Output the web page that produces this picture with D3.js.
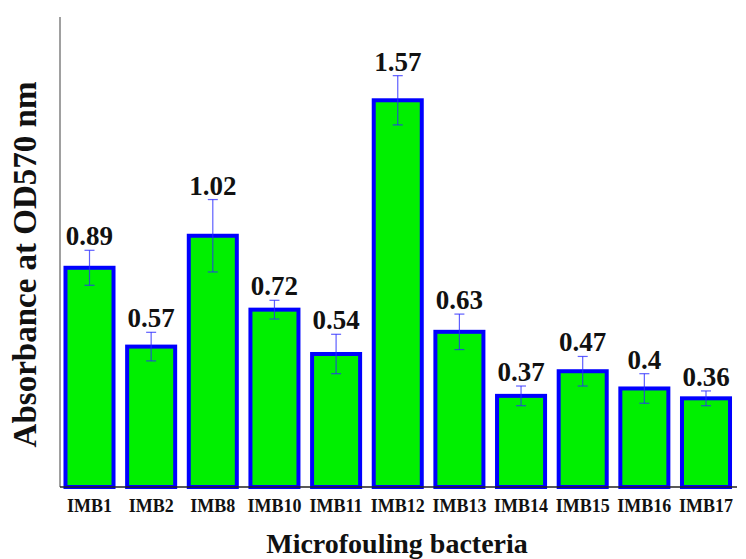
<!DOCTYPE html>
<html>
<head>
<meta charset="utf-8">
<script src="https://cdn.jsdelivr.net/npm/d3@7"></script>
<style>
  html, body { margin: 0; padding: 0; background: #fff; }
  svg { display: block; }
  text { font-family: "Liberation Serif", "Times New Roman", serif; font-weight: bold; fill: #111; }
</style>
</head>
<body>
<svg id="chart" width="746" height="559"></svg>
<script>
// Biofilm formation by microfouling isolates (mean ± SD)
const strains = ["IMB1", "IMB2", "IMB8", "IMB10", "IMB11", "IMB12", "IMB13", "IMB14", "IMB15", "IMB16", "IMB17"];
const absorbance = [0.89, 0.57, 1.02, 0.72, 0.54, 1.57, 0.63, 0.37, 0.47, 0.40, 0.36];
const errors = [0.071, 0.058, 0.147, 0.038, 0.080, 0.100, 0.072, 0.040, 0.060, 0.060, 0.030];
const yMax = 1.9;

const data = strains.map((s, i) => ({ strain: s, value: absorbance[i], err: errors[i] }));

const svg = d3.select("#chart");
const plotLeft = 60, plotRight = 735.5, plotTop = 19, plotBottom = 487;

const x = d3.scaleBand()
  .domain(strains)
  .range([plotLeft, plotRight])
  .paddingInner(0.221)
  .paddingOuter(0.089);

const y = d3.scaleLinear().domain([0, yMax]).range([plotBottom, plotTop]);

// bars
svg.append("g").selectAll("rect")
  .data(data)
  .join("rect")
  .attr("x", d => x(d.strain))
  .attr("y", d => y(d.value))
  .attr("width", x.bandwidth())
  .attr("height", d => y(0) - y(d.value))
  .attr("fill", "#00f000")
  .attr("stroke", "#0000ff")
  .attr("stroke-width", 4);

// error bars
const eb = svg.append("g")
  .attr("stroke", "#2a2aff")
  .attr("stroke-opacity", 0.75)
  .attr("stroke-width", 1.2);
const cap = 5;
data.forEach(d => {
  const cx = x(d.strain) + x.bandwidth() / 2;
  eb.append("line").attr("x1", cx).attr("x2", cx)
    .attr("y1", y(d.value + d.err)).attr("y2", y(d.value - d.err));
  eb.append("line").attr("x1", cx - cap).attr("x2", cx + cap)
    .attr("y1", y(d.value + d.err)).attr("y2", y(d.value + d.err));
  eb.append("line").attr("x1", cx - cap).attr("x2", cx + cap)
    .attr("y1", y(d.value - d.err)).attr("y2", y(d.value - d.err));
});

// value labels
svg.append("g").selectAll("text")
  .data(data)
  .join("text")
  .attr("x", d => x(d.strain) + x.bandwidth() / 2)
  .attr("y", d => y(d.value + d.err) - 5)
  .attr("text-anchor", "middle")
  .attr("font-size", 27)
  .text(d => d.value);

// y axis line (no ticks)
svg.append("line")
  .attr("x1", plotLeft).attr("x2", plotLeft)
  .attr("y1", 17).attr("y2", plotBottom)
  .attr("stroke", "#808080").attr("stroke-width", 1.5);

// x axis
const xAxis = svg.append("g")
  .attr("transform", `translate(0,${plotBottom})`)
  .call(d3.axisBottom(x).tickSize(0).tickPadding(0));
xAxis.select(".domain")
  .attr("d", `M${plotLeft},0H737`)
  .attr("stroke", "#222").attr("stroke-width", 1.5);
xAxis.selectAll(".tick text")
  .attr("y", 25)
  .attr("dy", 0)
  .attr("font-size", 18)
  .attr("font-family", "Liberation Serif, Times New Roman, serif")
  .attr("font-weight", "bold")
  .attr("fill", "#111");

// axis titles
svg.append("text")
  .attr("transform", "translate(36,264.5) rotate(-90)")
  .attr("text-anchor", "middle")
  .attr("font-size", 33)
  .text("Absorbance at OD570 nm");

svg.append("text")
  .attr("x", 397)
  .attr("y", 553)
  .attr("text-anchor", "middle")
  .attr("font-size", 28)
  .text("Microfouling bacteria");
</script>
</body>
</html>
